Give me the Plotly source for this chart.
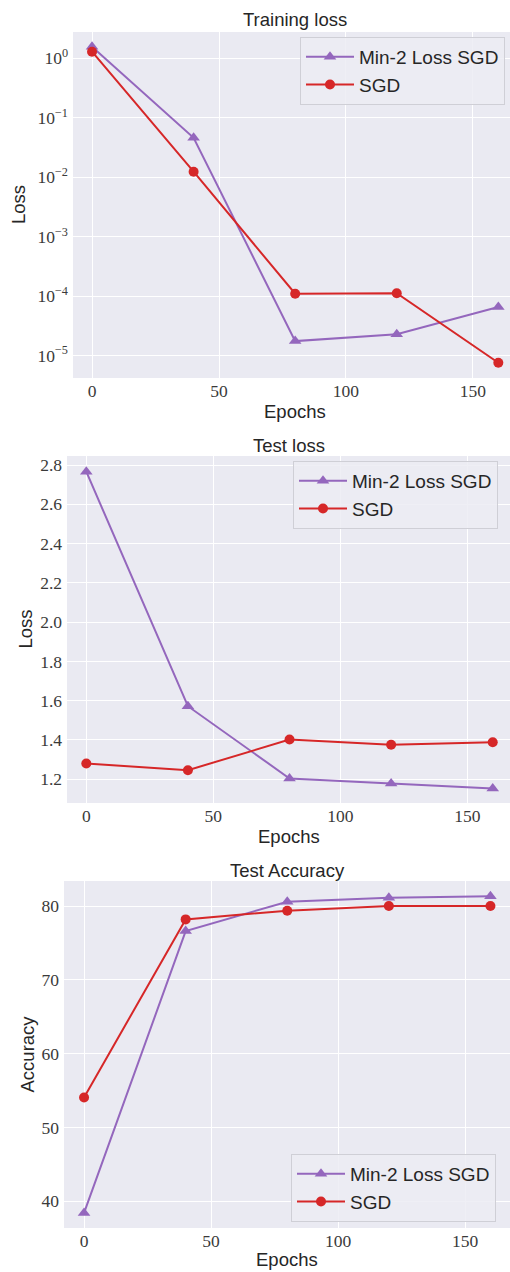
import plotly.graph_objects as go

# ---- data -------------------------------------------------------------
epochs = [0, 40, 80, 120, 160]

train_loss_min2 = [1.57, 0.046, 1.76e-5, 2.3e-5, 6.6e-5]
train_loss_sgd = [1.29, 0.0124, 1.10e-4, 1.12e-4, 7.6e-6]

test_loss_min2 = [2.766, 1.572, 1.204, 1.178, 1.153]
test_loss_sgd = [1.280, 1.246, 1.402, 1.376, 1.388]

test_acc_min2 = [38.42, 76.6, 80.59, 81.13, 81.31]
test_acc_sgd = [54.06, 78.19, 79.37, 80.0, 80.0]

series_names = ["Min-2 Loss SGD", "SGD"]
panel_titles = ["Training loss", "Test loss", "Test Accuracy"]
y_labels = ["Loss", "Loss", "Accuracy"]
x_label = "Epochs"

x_tick_vals = [0, 50, 100, 150]
log_tick_vals = [1, 1e-1, 1e-2, 1e-3, 1e-4, 1e-5]
log_tick_text = ["10<sup>0</sup>", "10<sup>−1</sup>", "10<sup>−2</sup>",
                 "10<sup>−3</sup>", "10<sup>−4</sup>", "10<sup>−5</sup>"]
test_loss_ticks = [1.2, 1.4, 1.6, 1.8, 2.0, 2.2, 2.4, 2.6, 2.8]
acc_ticks = [40, 50, 60, 70, 80]

# ---- styling ----------------------------------------------------------
W, H = 510, 1272
PURPLE = "#9467bd"
RED = "#d62728"
BG = "#eaeaf2"
SANS = "Liberation Sans, Arial, sans-serif"
SERIF = "Liberation Serif, Times New Roman, serif"
TICK_FONT = dict(family=SERIF, size=17.5, color="#3a3a3a")
LABEL_SIZE = 18.5

# pixel boxes of each axes: (left, top, bottom)
boxes = [(73, 32, 378), (67, 456, 803), (64, 881, 1228)]
x_ranges = [[-7.5, 164.6], [-7.6, 166.8], [-7.9, 167.7]]
x_label_pos = [(295, 411), (289, 836), (287, 1259)]
y_label_x = [18, 25, 27]
title_pos = [(295, 20), (289, 445), (287, 870)]
legend_pos = [(300, 37), (293, 461), (291, 1154)]


def px_x(v):
    return v / W


def px_y(v):
    return 1 - v / H


fig = go.Figure()

panels = [
    (train_loss_min2, train_loss_sgd),
    (test_loss_min2, test_loss_sgd),
    (test_acc_min2, test_acc_sgd),
]
legend_ids = ["legend", "legend2", "legend3"]

for i, (ys_min2, ys_sgd) in enumerate(panels):
    suffix = "" if i == 0 else str(i + 1)
    xa, ya = "x" + suffix, "y" + suffix
    fig.add_trace(go.Scatter(
        x=epochs, y=ys_min2, name=series_names[0], mode="lines+markers",
        line=dict(color=PURPLE, width=2),
        marker=dict(symbol="triangle-up", size=11, color=PURPLE),
        xaxis=xa, yaxis=ya, legend=legend_ids[i],
    ))
    fig.add_trace(go.Scatter(
        x=epochs, y=ys_sgd, name=series_names[1], mode="lines+markers",
        line=dict(color=RED, width=2),
        marker=dict(symbol="circle", size=10, color=RED),
        xaxis=xa, yaxis=ya, legend=legend_ids[i],
    ))

axis_common = dict(
    showgrid=True, gridcolor="white", gridwidth=1.3,
    zeroline=False, showline=False, ticks="",
    tickfont=TICK_FONT,
)

layout = dict(
    width=W, height=H,
    margin=dict(l=0, r=0, t=0, b=0),
    paper_bgcolor="white",
    plot_bgcolor=BG,
    showlegend=True,
    annotations=[],
)

y_settings = [
    dict(type="log", range=[-5.375, 0.442], tickvals=log_tick_vals,
         ticktext=log_tick_text),
    dict(range=[1.079, 2.846], tickvals=test_loss_ticks,
         ticktext=[f"{v:.1f}" for v in test_loss_ticks]),
    dict(range=[36.38, 83.39], tickvals=acc_ticks),
]

for i in range(3):
    suffix = "" if i == 0 else str(i + 1)
    left, top, bottom = boxes[i]
    layout["xaxis" + suffix] = dict(
        axis_common, domain=[px_x(left), 1.0], range=x_ranges[i],
        tickvals=x_tick_vals, anchor="y" + suffix,
    )
    layout["yaxis" + suffix] = dict(
        axis_common, domain=[px_y(bottom), px_y(top)],
        anchor="x" + suffix, ticklabelstandoff=4, **y_settings[i],
    )
    lx, ly = legend_pos[i]
    layout[legend_ids[i]] = dict(
        x=px_x(lx), y=px_y(ly), xanchor="left", yanchor="top",
        bgcolor="rgba(236,236,243,0.85)", bordercolor="#cfcfd6",
        borderwidth=1, font=dict(family=SANS, size=19, color="#262626"),
        itemwidth=48,
    )
    tx, ty = title_pos[i]
    layout["annotations"].append(dict(
        text=panel_titles[i], x=px_x(tx), y=px_y(ty), xref="paper",
        yref="paper", showarrow=False, xanchor="center", yanchor="middle",
        font=dict(family=SANS, size=LABEL_SIZE, color="#262626"),
    ))
    ex, ey = x_label_pos[i]
    layout["annotations"].append(dict(
        text=x_label, x=px_x(ex), y=px_y(ey), xref="paper", yref="paper",
        showarrow=False, xanchor="center", yanchor="middle",
        font=dict(family=SANS, size=LABEL_SIZE, color="#262626"),
    ))
    layout["annotations"].append(dict(
        text=y_labels[i], x=px_x(y_label_x[i]), y=px_y((top + bottom) / 2),
        xref="paper", yref="paper", showarrow=False, textangle=-90,
        xanchor="center", yanchor="middle",
        font=dict(family=SANS, size=LABEL_SIZE, color="#262626"),
    ))

fig.update_layout(**layout)
fig.write_html("out.html")
